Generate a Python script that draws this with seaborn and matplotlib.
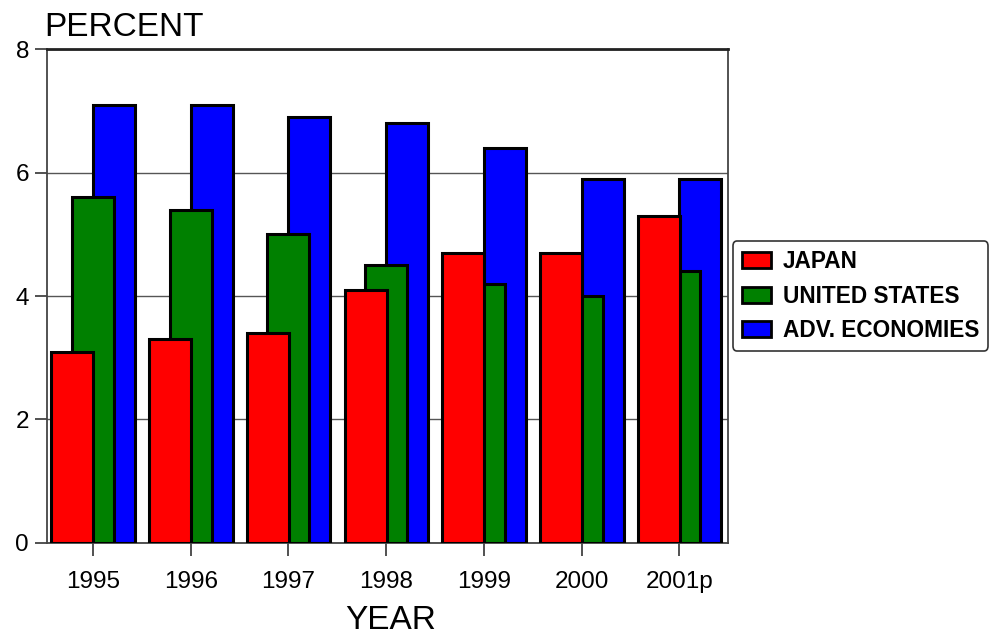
import matplotlib
matplotlib.use("Agg")
import matplotlib.pyplot as plt
import seaborn as sns
import pandas as pd
import numpy as np
from matplotlib.patches import Patch

years = ["1995", "1996", "1997", "1998", "1999", "2000", "2001p"]
japan = [3.1, 3.3, 3.4, 4.1, 4.7, 4.7, 5.3]
united_states = [5.6, 5.4, 5.0, 4.5, 4.2, 4.0, 4.4]
adv_economies = [7.1, 7.1, 6.9, 6.8, 6.4, 5.9, 5.9]

series_names = ["JAPAN", "UNITED STATES", "ADV. ECONOMIES"]
series_values = [japan, united_states, adv_economies]
series_colors = ["#ff0000", "#008000", "#0000ff"]
offsets = [-0.21, 0.0, 0.215]
bar_width = 0.43

sns.set_theme(style="white")
plt.rcParams["font.family"] = ["Liberation Sans", "DejaVu Sans"]
plt.rcParams["text.color"] = "black"
plt.rcParams["xtick.labelcolor"] = "black"
plt.rcParams["ytick.labelcolor"] = "black"

fig = plt.figure(figsize=(9.93, 6.38), dpi=100)
ax = fig.add_axes([0.0473, 0.149, 0.686, 0.774])

idx = np.arange(len(years))
# back-to-front: advanced economies behind, Japan in front
for order, k in enumerate([2, 1, 0]):
    df = pd.DataFrame({"pos": idx + offsets[k], "value": series_values[k]})
    sns.barplot(data=df, x="pos", y="value", native_scale=True, width=bar_width,
                color=series_colors[k], saturation=1, edgecolor="black",
                linewidth=2.2, errorbar=None, ax=ax, zorder=3 + order)

ax.set_xlim(-0.47, len(years) - 0.5)
ax.set_ylim(0, 8)
ax.set_xticks(idx)
ax.set_xticklabels(years, fontsize=17.5, color="black")
ax.set_yticks([0, 2, 4, 6, 8])
ax.set_yticklabels(["0", "2", "4", "6", "8"], fontsize=17.5, color="black")
ax.tick_params(axis="both", direction="out", length=9, width=1.2, colors="#333333",
               labelcolor="black", left=True, bottom=True, pad=4)
ax.tick_params(axis="x", pad=11)
ax.yaxis.grid(True, color="#555555", linewidth=1.0, zorder=0)
ax.set_axisbelow(True)
for side in ["left", "bottom", "right"]:
    ax.spines[side].set_visible(True)
    ax.spines[side].set_color("#444444")
    ax.spines[side].set_linewidth(1.3)
ax.spines["top"].set_visible(True)
ax.spines["top"].set_color("#222222")
ax.spines["top"].set_linewidth(2.0)

ax.set_xlabel("")
ax.set_ylabel("")
fig.text(0.045, 1 - 36 / 638, "PERCENT", fontsize=24, ha="left", va="baseline",
         color="black")
fig.text(0.393, 0.003, "YEAR", fontsize=24, ha="center", va="bottom",
         color="black")

handles = [Patch(facecolor=c, edgecolor="black", linewidth=2) for c in series_colors]
leg = fig.legend(handles, series_names, loc="center left",
                 bbox_to_anchor=(0.738, 0.536), frameon=True, fancybox=True,
                 prop={"weight": "bold", "size": 16.3}, handlelength=1.3,
                 handleheight=0.7, handletextpad=0.5, labelspacing=0.5,
                 borderpad=0.4, borderaxespad=0.0)
leg.get_frame().set_edgecolor("black")
leg.get_frame().set_linewidth(1.2)
for t in leg.get_texts():
    t.set_color("black")

fig.savefig("out.png", dpi=100)
